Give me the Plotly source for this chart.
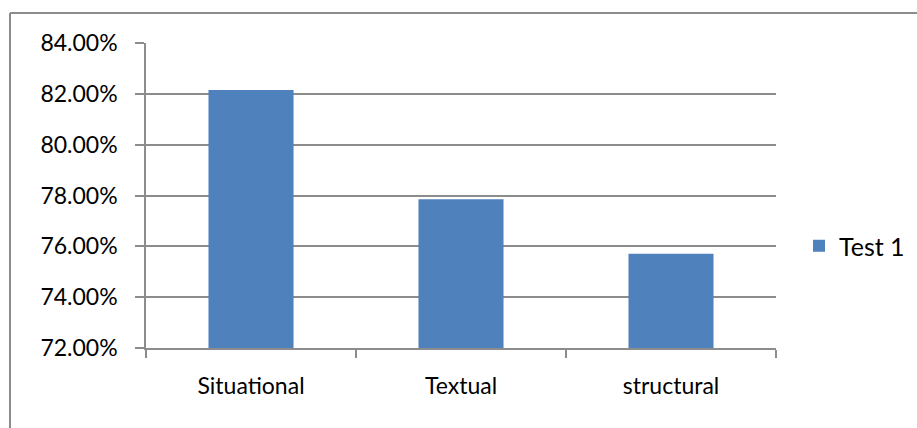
import plotly.graph_objects as go

categories = ["Situational", "Textual", "structural"]
test1 = [0.8215, 0.7785, 0.7571]
series_name = "Test 1"
y_ticks = [0.72, 0.74, 0.76, 0.78, 0.80, 0.82, 0.84]

W, H = 917, 428
L, R, T, B = 146, 141, 43, 80
pw, ph = W - L - R, H - T - B

def px_x(x):
    return (x - L) / pw

def px_y(y):
    return (H - B - y) / ph

FONT = "Lato"
GRID = "#8c8c8c"

fig = go.Figure()
fig.add_trace(go.Bar(x=categories, y=test1, name=series_name,
                     marker=dict(color="#4F81BD", line=dict(width=0))))

fig.update_layout(
    width=W, height=H,
    margin=dict(l=L, r=R, t=T, b=B, autoexpand=False),
    paper_bgcolor="white", plot_bgcolor="white",
    font=dict(family=FONT, size=23, color="#000000"),
    bargap=0.595,
    showlegend=True,
    legend=dict(x=px_x(799), y=px_y(246), xanchor="left", yanchor="middle",
                font=dict(family=FONT, size=25), bgcolor="rgba(0,0,0,0)"),
    xaxis=dict(
        showline=True, linecolor=GRID, linewidth=1.5,
        ticks="outside", tickson="boundaries", ticklen=8, tickcolor=GRID, tickwidth=1.5,
        ticklabelstandoff=17, showgrid=False, zeroline=False, automargin=False,
    ),
    yaxis=dict(
        range=[0.72, 0.84], tickvals=y_ticks, tickformat=".2%",
        showline=True, linecolor=GRID, linewidth=1.5,
        ticks="outside", ticklen=9, tickcolor=GRID, tickwidth=1.5,
        ticklabelstandoff=13, automargin=False,
        showgrid=True, gridcolor=GRID, gridwidth=1.5, zeroline=False,
    ),
    shapes=[
        dict(type="line", xref="paper", yref="paper",
             x0=px_x(10), x1=px_x(917), y0=px_y(13), y1=px_y(13),
             line=dict(color=GRID, width=2)),
        dict(type="line", xref="paper", yref="paper",
             x0=px_x(10), x1=px_x(10), y0=px_y(13), y1=px_y(428),
             line=dict(color=GRID, width=2)),
    ],
)

fig.write_html("out.html", config={"displayModeBar": False},
               post_script="document.body.style.margin='0';document.body.style.padding='0';")
